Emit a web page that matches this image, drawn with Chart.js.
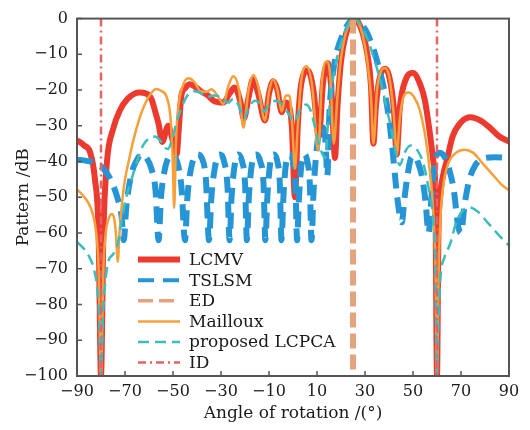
<!DOCTYPE html>
<html>
<head>
<meta charset="utf-8">
<script src="https://cdn.jsdelivr.net/npm/chart.js@4.4.0/dist/chart.umd.min.js"></script>
<style>
  html, body { margin: 0; padding: 0; background: #fff; }
</style>
</head>
<body>
<canvas id="myChart" width="530" height="430"></canvas>
<script>
// Axis ticks
const xTicks = [-90, -70, -50, -30, -10, 10, 30, 50, 70, 90];
const yTicks = [0, -10, -20, -30, -40, -50, -60, -70, -80, -90, -100];

// LCMV
const lcmvAngle = [-90, -87, -84.5, -82.5, -81, -80, -79, -77.5, -75, -72, -69, -66, -64, -61, -59, -57, -56, -54.5, -52, -50.5, -48.5, -47.5, -46.5, -45, -43, -40.5, -38, -35.5, -33, -29, -26.5, -24.3, -22, -20.5, -18.5, -16.7, -14.5, -11.7, -10, -8.2, -6.5, -4.7, -3.3, -2, -0.5, 0.8, 2, 3.5, 6.2, 8.5, 10.8, 12.5, 14.5, 16, 17.5, 18.5, 20, 22, 24, 25.5, 27, 29, 31, 32.5, 33.5, 34.5, 36, 38.3, 40, 42, 43.2, 44.5, 47, 50, 53, 55, 57, 58.5, 59.3, 60, 60.6, 61.3, 62.5, 64, 66.5, 70, 74, 78, 82, 86, 90];
const lcmvDb = [-34, -35.5, -37.5, -45, -60, -100, -60, -40, -31, -25.5, -22.5, -21, -20.7, -21, -22.5, -27, -29.5, -34.5, -30, -33, -38, -30, -21.5, -19.5, -18.4, -19.2, -20.5, -21.5, -23, -23.5, -21, -19.3, -23, -28, -22, -17, -21, -28.5, -21, -17.5, -20, -26.2, -23.5, -24, -30, -50, -30, -18, -14.5, -20, -33, -18, -12.5, -20, -39, -25, -12, -4.5, -0.8, 0, -0.8, -4, -10, -19, -35, -25, -17, -14, -16, -25, -38, -25, -17, -15.2, -18.4, -23, -32, -40, -48, -100, -60, -50, -44, -40, -33, -29, -27.6, -28.5, -30.5, -33, -34.4];

// TSLSM
const tslsmAngle = [-90, -86, -82, -79, -76, -73, -71.5, -70.5, -69.5, -67.5, -65, -63, -61, -59, -57.3, -56, -55, -53.5, -51.5, -50, -48.3, -46.5, -45, -44, -42.5, -40, -38, -36.3, -35, -34, -32.5, -30.7, -28.7, -27.3, -26.4, -25.6, -24.3, -22.8, -21.2, -20, -19.2, -18.4, -17.2, -15.4, -13.6, -12.3, -11.5, -10.7, -9.6, -8, -6.5, -5.5, -4.8, -4, -3, -1.5, 0, 1, 1.7, 2.5, 3.5, 4.8, 6, 7, 7.7, 8.6, 9.8, 11, 12.5, 13.5, 14.3, 15.2, 16.5, 18, 21, 23, 25.5, 28, 30.5, 33, 35.5, 38, 40, 41.5, 42.8, 44, 45.3, 46.5, 47.7, 49.2, 50.7, 52.2, 53.7, 55.2, 56.5, 57.7, 59.2, 61, 63, 65, 67, 68.8, 70, 71.5, 73.5, 76, 79, 84, 90];
const tslsmDb = [-39.5, -39.8, -40.5, -42, -45, -50.5, -55, -62, -53, -44, -39.5, -38, -39, -42, -48, -62, -50, -42.5, -38.5, -38, -40, -47, -62, -50, -42, -38, -39, -45, -62, -50, -41.5, -38, -40, -47, -62, -50, -41, -38, -40, -46, -62, -50, -41, -38, -40, -46, -62, -50, -41, -38, -40, -46, -62, -50, -41, -38, -40, -46, -62, -50, -41, -38, -40, -46, -62, -48, -37, -31.5, -30.5, -34, -44, -26, -16, -10, -4, -1.5, 0, -1.2, -3.5, -7.5, -13, -20, -28, -37, -46, -53, -57, -50, -44, -39, -38.5, -40.5, -44, -51, -60, -50, -40, -37.5, -38.5, -42, -48, -58, -60, -52, -45, -41, -39.2, -38.8, -39];

// ED (expected direction)
const edAngle = [25, 25];
const edDb = [0, -100];

// Mailloux
const maillouxAngle = [-90, -87.5, -85.4, -83.5, -82, -81, -80, -79, -78, -76.5, -75.5, -74.5, -73.8, -73, -72.3, -71, -70, -68, -66.5, -64, -61.7, -59, -57, -55, -52.6, -51, -50.2, -49.5, -48.8, -48, -46, -43.6, -41, -38.75, -36, -34, -31.5, -29, -27, -24.9, -22.5, -20.7, -18.5, -16.5, -14.5, -11.7, -10, -8.2, -6.5, -4.7, -3, -1.5, -0.3, 0.8, 2, 3.5, 5.7, 8, 10.5, 12, 14, 15.5, 17, 18.5, 20, 22, 24, 25.5, 27, 29, 31, 32.5, 33.5, 35, 36.5, 38.3, 40, 42, 43.2, 44.5, 46, 48, 50.5, 53, 56, 58.5, 59.4, 60, 60.7, 61.5, 63, 65, 68, 71.5, 75, 79, 83, 87, 90];
const maillouxDb = [-47.8, -49.5, -51.4, -54.5, -60, -70, -100, -70, -60, -55.5, -54.7, -56, -60, -68, -60, -50, -45, -38.5, -34, -28, -23.9, -20.8, -19.7, -20.2, -22, -28, -38, -53, -35, -26, -19, -16.7, -17.8, -20.2, -20.5, -19.8, -21.5, -23.9, -19, -16.1, -20, -30.5, -20, -15.8, -19, -28.5, -20.5, -17, -20, -26, -21.5, -21.5, -30, -42, -30, -17, -13.3, -19, -37, -18, -12, -16, -35, -22, -11, -4, -0.8, 0, -0.8, -4.5, -12, -22, -35, -20, -15, -13.8, -16, -27, -38, -28, -22, -20.7, -22, -26, -37, -55, -70, -100, -70, -55, -45, -40, -37.5, -36.7, -37.5, -40.5, -43.5, -46.5, -48];

// proposed LCPCA
const lcpcaAngle = [-90, -87, -85, -83, -81.5, -80.7, -80, -79.3, -78.5, -77, -75, -73, -71.5, -69.5, -67.5, -65, -62.5, -60, -57.5, -55.5, -53.5, -52, -50.5, -48.5, -46.5, -44, -41, -38.5, -36, -33, -30, -27, -25, -22.5, -20.5, -18.5, -16, -13.5, -12, -10, -7, -4.5, -2, 0.5, 3, 5.5, 7.5, 9, 10.5, 12, 13.5, 14.5, 16, 18, 20, 22, 24, 25.5, 27.5, 29.5, 31.5, 33, 35, 37, 39, 41, 43, 44.5, 46.5, 49, 52, 54.5, 56.5, 58.5, 59.4, 60, 60.6, 61.5, 63, 65.5, 68, 71, 73.5, 77, 81, 85, 90];
const lcpcaDb = [-62.5, -64.5, -66.5, -70, -76, -85, -100, -85, -76, -68, -66, -63, -57, -50, -45.5, -40, -35.5, -33.5, -33, -34, -36, -36.5, -34, -29, -25, -21.5, -20.3, -20.8, -22, -21.5, -22, -23.5, -22.5, -24.5, -28, -25, -23, -24, -26, -24, -23, -24, -26.5, -28.8, -25.5, -24, -26, -30, -34.5, -37.5, -39, -30, -20, -12, -7, -3, -0.6, 0, -1, -3.5, -6.5, -9.5, -14, -19, -25, -31, -38, -41, -37.5, -35.5, -37, -41, -47.5, -57, -70, -100, -85, -72, -67, -63, -57, -53.5, -52.8, -54, -57, -60, -63.5];

// ID (interference directions)
const idAngle = [-80, -80, null, 60, 60];
const idDb = [0, -100, null, 0, -100];

function toPoints(xs, ys) {
    return xs.map((x, i) => ({ x: x, y: ys[i] }));
}

// Draw inward ticks and the box round the plot
const frameTicks = {
    id: 'frameTicks',
    afterDatasetsDraw(chart) {
        const { ctx, chartArea: a, scales } = chart;
        ctx.save();
        ctx.strokeStyle = '#555';
        ctx.lineWidth = 1.5;
        ctx.beginPath();
        xTicks.forEach(v => {
            const px = scales.x.getPixelForValue(v);
            ctx.moveTo(px, a.bottom);
            ctx.lineTo(px, a.bottom - 5);
        });
        yTicks.forEach(v => {
            const py = scales.y.getPixelForValue(v);
            ctx.moveTo(a.left, py);
            ctx.lineTo(a.left + 5, py);
        });
        ctx.stroke();
        ctx.lineWidth = 2;
        ctx.strokeRect(a.left, a.top, a.right - a.left, a.bottom - a.top);
        ctx.restore();
    }
};

// Legend drawn inside the plot, lower left
const insideLegend = {
    id: 'insideLegend',
    afterDatasetsDraw(chart) {
        const { ctx, chartArea: a } = chart;
        ctx.save();
        ctx.font = "17px 'DejaVu Serif'";
        ctx.textBaseline = 'middle';
        ctx.fillStyle = '#1a1a1a';
        chart.data.datasets.forEach((ds, i) => {
            const y = a.top + 241 + i * 20.6;
            ctx.strokeStyle = ds.borderColor;
            ctx.lineWidth = ds.legendWidth || ds.borderWidth;
            ctx.setLineDash(ds.borderDash || []);
            ctx.beginPath();
            ctx.moveTo(a.left + 61, y);
            ctx.lineTo(a.left + 103, y);
            ctx.stroke();
            ctx.setLineDash([]);
            ctx.fillText(ds.label, a.left + 112, y + 1);
        });
        ctx.restore();
    }
};

Chart.defaults.font.family = "'DejaVu Serif', serif";
Chart.defaults.color = '#1a1a1a';

new Chart("myChart", {
    type: "line",
    data: {
        datasets: [
            { label: "LCMV", data: toPoints(lcmvAngle, lcmvDb), borderColor: "#ec3a2e", borderWidth: 6, order: 6, cubicInterpolationMode: 'monotone' },
            { label: "TSLSM", data: toPoints(tslsmAngle, tslsmDb), borderColor: "#2595d6", borderWidth: 6, borderDash: [16, 9], order: 5, cubicInterpolationMode: 'monotone', legendWidth: 4 },
            { label: "ED", data: toPoints(edAngle, edDb), borderColor: "#e6a47e", borderWidth: 6, borderDash: [15, 6], order: 4, tension: 0, legendWidth: 3.5 },
            { label: "Mailloux", data: toPoints(maillouxAngle, maillouxDb), borderColor: "#f6a03c", borderWidth: 2.5, order: 3, cubicInterpolationMode: 'monotone' },
            { label: "proposed LCPCA", data: toPoints(lcpcaAngle, lcpcaDb), borderColor: "#3cbdbd", borderWidth: 2.5, borderDash: [11, 6], order: 2, cubicInterpolationMode: 'monotone' },
            { label: "ID", data: toPoints(idAngle, idDb), borderColor: "#e36464", borderWidth: 2.5, borderDash: [8, 4, 2, 4], order: 1, tension: 0, spanGaps: false }
        ]
    },
    options: {
        responsive: false,
        animation: false,
        devicePixelRatio: 1,
        layout: { padding: { top: 13, right: 21, left: 13, bottom: 4 } },
        elements: { point: { radius: 0 }, line: { fill: false } },
        plugins: {
            legend: { display: false },
            tooltip: { enabled: false }
        },
        scales: {
            x: {
                type: 'linear',
                min: -90,
                max: 90,
                grid: { display: false, drawTicks: false },
                border: { display: false },
                afterBuildTicks: s => { s.ticks = xTicks.map(v => ({ value: v })); },
                afterFit: s => { s.height = 50; },
                ticks: {
                    padding: 6,
                    maxRotation: 0,
                    autoSkip: false,
                    font: { size: 16 },
                    callback: v => v < 0 ? '\u2212' + Math.abs(v) : String(v)
                },
                title: { display: true, text: 'Angle of rotation /(°)', font: { size: 17 }, padding: { top: 0, bottom: 2 } }
            },
            y: {
                min: -100,
                max: 0,
                grid: { display: false, drawTicks: false },
                border: { display: false },
                afterBuildTicks: s => { s.ticks = yTicks.map(v => ({ value: v })); },
                afterFit: s => { s.width = 64; },
                ticks: {
                    padding: 9,
                    autoSkip: false,
                    font: { size: 16 },
                    callback: v => v < 0 ? '\u2212' + Math.abs(v) : String(v)
                },
                title: { display: true, text: 'Pattern /dB', font: { size: 17 }, padding: { top: 0, bottom: 0 } }
            }
        }
    },
    plugins: [frameTicks, insideLegend]
});
</script>
</body>
</html>
